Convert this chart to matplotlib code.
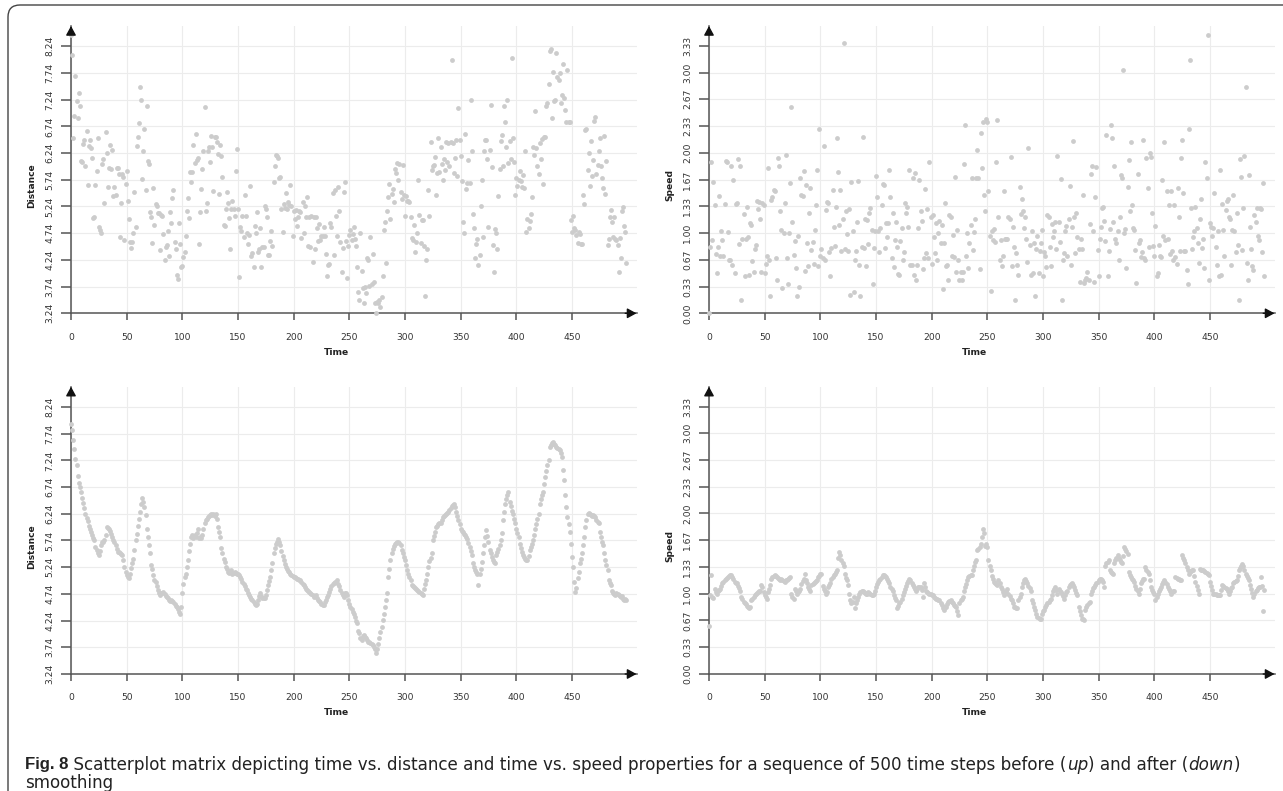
import matplotlib
matplotlib.use('Agg')
import numpy as np
import matplotlib.pyplot as plt
from matplotlib.patches import FancyBboxPatch

# distance per time step, before smoothing
dist_raw = [
    8.46, 8.07, 6.52, 6.94, 7.68, 7.21, 6.90, 7.37, 7.13, 6.10,
    6.08, 6.41, 6.49, 6.00, 6.66, 5.64, 6.38, 6.48, 6.33, 6.14,
    5.03, 5.05, 5.64, 5.90, 6.52, 4.86, 4.80, 4.75, 6.04, 6.13,
    5.31, 6.63, 6.24, 5.61, 5.97, 6.40, 5.94, 6.30, 5.43, 5.61,
    5.45, 5.96, 5.96, 5.85, 4.66, 5.31, 5.85, 5.80, 4.62, 5.67,
    5.91, 5.34, 5.01, 4.57, 4.47, 4.58, 4.75, 5.52, 4.85, 6.38,
    6.54, 6.80, 7.48, 7.23, 5.75, 6.28, 6.70, 5.55, 7.12, 6.10,
    6.04, 5.14, 5.05, 4.55, 5.58, 4.90, 5.28, 5.25, 5.11, 5.11,
    4.43, 5.09, 5.07, 4.73, 4.23, 4.49, 4.52, 4.78, 4.32, 5.13,
    4.94, 5.40, 5.55, 4.57, 4.45, 3.95, 3.89, 4.93, 4.54, 4.10,
    4.13, 4.29, 4.38, 4.68, 5.16, 5.40, 5.02, 5.88, 5.70, 5.88,
    6.40, 6.06, 6.60, 6.11, 6.15, 4.54, 5.14, 5.57, 5.95, 6.27,
    7.10, 5.16, 5.31, 6.27, 6.35, 6.08, 6.56, 6.36, 5.53, 6.55,
    6.54, 6.44, 6.22, 5.47, 6.40, 6.18, 5.80, 4.90, 4.88, 5.20,
    5.52, 5.30, 5.02, 4.45, 5.20, 5.35, 5.19, 5.07, 5.91, 6.31,
    5.19, 3.92, 4.85, 4.79, 5.06, 4.67, 5.46, 5.06, 4.75, 4.53,
    4.70, 5.63, 4.31, 4.36, 4.11, 4.88, 4.74, 5.13, 4.39, 4.44,
    4.83, 4.11, 4.48, 4.49, 5.24, 5.20, 5.04, 4.33, 4.33, 4.60,
    4.78, 4.50, 5.69, 5.99, 6.21, 6.18, 6.15, 5.77, 5.80, 5.20,
    4.77, 5.29, 5.21, 5.50, 5.19, 5.32, 5.27, 5.65, 5.24, 4.68,
    5.16, 5.00, 5.18, 4.88, 5.04, 5.16, 5.14, 4.65, 5.32, 4.75,
    5.24, 5.05, 5.41, 4.50, 5.04, 4.49, 5.07, 4.21, 5.05, 4.44,
    5.05, 4.83, 4.60, 4.91, 4.62, 4.68, 4.69, 4.86, 4.69, 4.35,
    3.93, 4.15, 4.16, 4.93, 4.86, 5.50, 4.33, 5.54, 5.07, 4.69,
    5.61, 5.15, 4.58, 4.02, 4.46, 5.52, 5.69, 4.60, 3.91, 4.50,
    4.71, 4.80, 4.62, 4.73, 4.86, 4.63, 4.50, 4.10, 3.63, 3.49,
    4.75, 4.03, 3.71, 3.44, 3.74, 3.62, 4.27, 4.23, 3.75, 4.67,
    3.79, 4.35, 3.83, 3.44, 3.24, 3.46, 3.43, 3.49, 3.35, 3.55,
    3.93, 4.80, 4.95, 4.18, 5.15, 5.42, 5.67, 5.00, 5.48, 5.57,
    5.33, 5.94, 5.87, 6.05, 5.74, 6.04, 5.52, 5.38, 6.02, 5.46,
    5.07, 5.43, 5.35, 5.35, 5.32, 5.05, 4.65, 4.61, 4.90, 4.38,
    4.58, 4.74, 5.73, 5.08, 4.55, 4.98, 4.98, 4.50, 3.56, 4.24,
    4.44, 5.55, 5.07, 6.45, 5.93, 5.99, 6.02, 6.16, 5.45, 5.87,
    6.53, 5.89, 6.36, 6.04, 5.74, 6.13, 5.93, 6.44, 6.08, 6.43,
    5.99, 6.44, 7.99, 6.43, 5.87, 6.15, 6.49, 5.82, 7.08, 6.48,
    6.18, 5.71, 4.95, 4.75, 6.60, 5.57, 5.68, 6.11, 5.68, 7.24,
    6.28, 5.10, 4.83, 4.27, 4.54, 4.63, 4.15, 4.33, 5.24, 5.74,
    4.66, 6.27, 6.48, 6.48, 6.13, 4.85, 6.30, 7.15, 5.98, 4.52,
    4.02, 4.82, 4.75, 4.44, 5.44, 5.94, 6.46, 6.58, 6.00, 7.12,
    6.83, 6.36, 7.24, 6.05, 6.46, 6.13, 8.02, 6.53, 6.08, 5.46,
    5.77, 5.63, 5.73, 5.91, 5.71, 5.60, 5.83, 5.58, 6.27, 4.77,
    5.00, 4.83, 4.96, 5.10, 5.42, 6.35, 6.21, 7.02, 6.33, 6.00,
    5.85, 6.43, 6.13, 6.51, 5.67, 6.54, 6.55, 7.12, 7.17, 7.53,
    8.15, 8.18, 6.90, 7.75, 7.22, 7.23, 8.12, 7.66, 7.61, 7.74,
    7.17, 7.33, 7.91, 7.27, 7.04, 6.82, 7.80, 6.82, 6.82, 4.99,
    4.77, 5.07, 4.83, 4.80, 4.71, 4.55, 4.77, 4.73, 4.54, 4.54,
    5.46, 5.29, 6.67, 6.69, 5.92, 6.25, 5.63, 6.46, 5.82, 6.11,
    6.85, 6.92, 5.85, 6.02, 6.27, 6.52, 5.99, 5.77, 5.58, 6.56,
    5.47, 6.10, 4.52, 4.63, 5.05, 5.18, 4.95, 4.66, 5.04, 4.63,
    4.62, 4.52, 4.02, 4.65, 4.27, 5.15, 5.23, 4.88, 4.77, 4.19,
]

# speed per time step, before smoothing
speed_raw = [
    0.00, 0.83, 1.88, 0.91, 1.64, 1.35, 0.74, 0.50, 0.82, 1.46,
    0.71, 1.03, 0.91, 0.71, 1.36, 1.90, 1.88, 1.01, 0.67, 0.66,
    1.84, 0.60, 1.66, 0.50, 1.36, 1.38, 1.92, 0.86, 1.84, 0.16,
    0.92, 1.24, 0.46, 0.93, 1.33, 0.95, 0.48, 1.13, 1.10, 0.65,
    0.52, 0.80, 0.85, 1.40, 1.30, 1.39, 1.17, 0.52, 1.38, 1.35,
    0.50, 0.62, 0.71, 1.81, 0.67, 0.22, 1.41, 1.45, 1.54, 1.53,
    0.69, 0.41, 1.94, 1.83, 1.27, 1.04, 0.31, 1.00, 1.38, 1.97,
    0.69, 0.36, 1.00, 1.62, 2.57, 1.14, 0.73, 0.90, 0.56, 0.21,
    0.96, 0.33, 1.68, 1.48, 1.46, 1.77, 0.53, 1.60, 0.88, 0.59,
    1.25, 1.56, 0.79, 0.89, 0.62, 1.04, 1.35, 1.79, 0.59, 2.30,
    0.71, 0.80, 0.69, 2.08, 0.67, 1.29, 1.39, 1.38, 0.76, 0.47,
    0.81, 1.54, 1.07, 0.84, 1.33, 2.18, 1.76, 1.10, 1.54, 0.78,
    1.17, 3.37, 0.80, 1.27, 0.99, 0.78, 1.30, 0.23, 1.64, 1.02,
    0.27, 0.67, 0.78, 1.14, 1.65, 0.60, 0.22, 0.83, 2.20, 0.81,
    1.18, 0.59, 1.16, 0.86, 1.25, 1.31, 1.04, 0.37, 0.81, 1.03,
    1.71, 1.45, 1.02, 0.77, 1.06, 1.35, 1.61, 1.60, 0.81, 1.12,
    0.95, 1.12, 1.79, 1.45, 0.69, 1.25, 0.58, 0.91, 1.14, 0.83,
    0.49, 0.48, 0.90, 1.06, 0.66, 0.76, 1.38, 1.25, 1.33, 1.08,
    1.79, 0.60, 0.60, 1.68, 0.48, 1.75, 0.42, 0.60, 1.06, 1.66,
    1.27, 1.15, 0.55, 0.69, 1.55, 0.75, 1.30, 0.69, 1.88, 1.20,
    0.62, 1.22, 0.95, 0.75, 1.13, 0.66, 1.00, 1.15, 0.87, 1.10,
    0.30, 0.88, 1.37, 0.59, 0.60, 0.41, 1.23, 1.20, 0.71, 0.98,
    0.70, 1.70, 0.51, 1.04, 0.66, 0.41, 0.51, 0.41, 0.51, 1.86,
    2.35, 0.71, 1.00, 0.57, 0.88, 1.10, 1.68, 0.79, 1.01, 1.17,
    1.69, 2.04, 1.68, 0.55, 2.25, 1.81, 2.38, 1.47, 1.28, 2.42,
    2.38, 1.52, 0.96, 0.28, 1.02, 0.91, 1.05, 0.89, 1.89, 2.41,
    1.20, 0.66, 0.91, 0.59, 0.71, 1.52, 0.92, 0.92, 0.93, 1.20,
    1.17, 1.95, 0.59, 1.08, 0.82, 0.17, 0.75, 0.60, 0.48, 1.57,
    1.24, 1.43, 1.27, 1.06, 1.20, 0.93, 0.64, 2.06, 0.85, 0.48,
    1.03, 0.50, 0.87, 0.22, 0.80, 0.96, 0.50, 0.78, 0.87, 1.04,
    0.46, 0.76, 0.71, 0.58, 1.23, 1.20, 0.83, 0.59, 1.11, 0.95,
    1.02, 1.14, 0.80, 1.96, 1.14, 0.89, 1.67, 0.17, 0.66, 0.75,
    1.03, 1.09, 0.71, 1.18, 1.59, 0.60, 1.08, 2.15, 1.20, 0.75,
    1.25, 0.95, 0.80, 0.39, 0.93, 0.80, 1.47, 0.38, 0.42, 0.44,
    0.52, 0.42, 1.11, 1.74, 1.83, 1.02, 0.39, 1.45, 1.82, 0.79,
    0.46, 0.93, 1.08, 1.31, 1.33, 1.15, 0.90, 2.22, 0.46, 0.78,
    1.05, 2.35, 2.19, 1.14, 1.84, 0.93, 0.87, 1.02, 0.66, 1.20,
    1.72, 1.68, 3.03, 1.00, 1.05, 0.56, 1.57, 1.91, 1.27, 2.14,
    1.35, 1.06, 1.04, 0.79, 0.38, 1.74, 0.87, 0.91, 0.70, 0.76,
    2.16, 0.69, 0.66, 1.94, 1.56, 0.83, 2.00, 1.95, 1.25, 0.84,
    0.71, 1.09, 0.47, 0.50, 0.85, 0.71, 0.70, 1.66, 0.96, 2.13,
    0.91, 1.52, 0.92, 1.35, 0.74, 1.52, 0.78, 0.66, 1.35, 0.70,
    0.62, 1.56, 1.20, 0.78, 1.94, 2.16, 1.50, 0.78, 0.78, 0.54,
    0.37, 2.30, 3.16, 1.31, 0.80, 0.95, 1.03, 1.33, 1.06, 0.87,
    0.63, 1.18, 1.43, 0.81, 0.92, 0.56, 1.88, 1.68, 3.47, 0.41,
    1.12, 1.08, 0.96, 1.06, 1.50, 0.83, 0.60, 1.03, 0.47, 1.78,
    0.48, 1.36, 1.04, 0.71, 1.29, 1.40, 1.43, 1.20, 1.18, 0.60,
    1.04, 1.47, 1.03, 0.76, 1.25, 0.85, 0.16, 1.92, 1.70, 0.79,
    1.31, 1.96, 2.82, 0.63, 0.41, 1.72, 1.08, 0.80, 0.59, 0.54,
    1.23, 1.14, 1.31, 0.96, 0.91, 1.31, 1.30, 0.77, 1.62, 0.46,
]

# distance after smoothing
dist_smooth = [
    7.93, 7.80, 7.63, 7.45, 7.27, 7.15, 6.94, 6.81, 6.74, 6.65,
    6.54, 6.44, 6.34, 6.24, 6.17, 6.10, 6.02, 5.96, 5.90, 5.84,
    5.78, 5.75, 5.62, 5.56, 5.50, 5.47, 5.55, 5.65, 5.71, 5.72,
    5.75, 5.85, 6.00, 5.97, 5.96, 5.92, 5.87, 5.81, 5.75, 5.71,
    5.65, 5.59, 5.53, 5.53, 5.50, 5.48, 5.47, 5.37, 5.25, 5.15,
    5.09, 5.05, 5.03, 5.12, 5.22, 5.31, 5.40, 5.56, 5.75, 5.87,
    6.01, 6.15, 6.28, 6.43, 6.53, 6.46, 6.37, 6.21, 5.96, 5.81,
    5.65, 5.50, 5.28, 5.20, 5.09, 5.00, 4.97, 4.89, 4.82, 4.75,
    4.72, 4.75, 4.75, 4.78, 4.74, 4.70, 4.69, 4.67, 4.63, 4.60,
    4.62, 4.60, 4.58, 4.56, 4.52, 4.50, 4.45, 4.40, 4.37, 4.50,
    4.75, 4.93, 5.05, 5.12, 5.25, 5.37, 5.55, 5.68, 5.80, 5.84,
    5.78, 5.84, 5.80, 5.88, 5.95, 5.78, 5.80, 5.78, 5.84, 5.95,
    6.06, 6.12, 6.15, 6.18, 6.20, 6.22, 6.24, 6.22, 6.24, 6.20,
    6.24, 6.15, 6.00, 5.90, 5.80, 5.60, 5.50, 5.40, 5.33, 5.25,
    5.20, 5.15, 5.14, 5.15, 5.18, 5.12, 5.14, 5.15, 5.13, 5.12,
    5.12, 5.10, 5.06, 5.02, 4.97, 4.93, 4.88, 4.84, 4.81, 4.76,
    4.72, 4.69, 4.65, 4.62, 4.58, 4.55, 4.53, 4.55, 4.62, 4.70,
    4.75, 4.70, 4.66, 4.66, 4.66, 4.72, 4.81, 4.90, 4.98, 5.06,
    5.18, 5.31, 5.50, 5.60, 5.68, 5.72, 5.76, 5.72, 5.65, 5.55,
    5.45, 5.37, 5.30, 5.25, 5.20, 5.17, 5.15, 5.12, 5.10, 5.08,
    5.06, 5.05, 5.03, 5.02, 5.01, 5.00, 5.00, 4.96, 4.93, 4.90,
    4.87, 4.84, 4.82, 4.80, 4.78, 4.75, 4.73, 4.71, 4.69, 4.70,
    4.72, 4.66, 4.62, 4.60, 4.59, 4.56, 4.54, 4.53, 4.58, 4.62,
    4.68, 4.72, 4.78, 4.84, 4.88, 4.93, 4.95, 4.97, 4.96, 5.00,
    4.93, 4.88, 4.81, 4.75, 4.72, 4.69, 4.75, 4.76, 4.72, 4.62,
    4.56, 4.50, 4.45, 4.40, 4.37, 4.30, 4.24, 4.19, 4.05, 4.00,
    3.92, 3.88, 3.95, 3.97, 3.94, 3.91, 3.88, 3.84, 3.83, 3.82,
    3.81, 3.78, 3.75, 3.70, 3.63, 3.70, 3.81, 3.92, 4.02, 4.12,
    4.25, 4.37, 4.50, 4.62, 4.75, 5.06, 5.20, 5.37, 5.50, 5.58,
    5.64, 5.68, 5.70, 5.71, 5.72, 5.70, 5.65, 5.56, 5.50, 5.44,
    5.37, 5.28, 5.19, 5.12, 5.05, 5.00, 4.90, 4.88, 4.86, 4.85,
    4.84, 4.81, 4.80, 4.78, 4.76, 4.74, 4.72, 4.84, 4.92, 5.00,
    5.12, 5.25, 5.35, 5.42, 5.50, 5.75, 5.82, 5.90, 6.00, 6.02,
    6.04, 6.06, 6.06, 6.12, 6.18, 6.20, 6.22, 6.24, 6.26, 6.28,
    6.31, 6.34, 6.38, 6.40, 6.42, 6.36, 6.28, 6.20, 6.12, 6.04,
    5.96, 5.92, 5.90, 5.87, 5.84, 5.81, 5.76, 5.70, 5.62, 5.55,
    5.47, 5.31, 5.25, 5.19, 5.15, 5.12, 4.90, 5.12, 5.20, 5.34,
    5.50, 5.66, 5.81, 5.93, 5.82, 5.72, 5.56, 5.50, 5.44, 5.38,
    5.33, 5.31, 5.47, 5.52, 5.58, 5.65, 5.75, 5.88, 6.12, 6.28,
    6.43, 6.52, 6.60, 6.65, 6.46, 6.38, 6.30, 6.24, 6.15, 6.06,
    5.95, 5.88, 5.81, 5.68, 5.60, 5.53, 5.47, 5.43, 5.40, 5.38,
    5.37, 5.45, 5.56, 5.62, 5.68, 5.75, 5.85, 5.96, 6.05, 6.15,
    6.24, 6.43, 6.52, 6.60, 6.65, 6.80, 6.93, 7.05, 7.15, 7.24,
    7.49, 7.53, 7.56, 7.59, 7.55, 7.52, 7.50, 7.48, 7.46, 7.43,
    7.38, 7.30, 7.06, 6.87, 6.59, 6.37, 6.18, 6.05, 5.90, 5.68,
    5.43, 5.25, 4.97, 4.78, 4.85, 5.03, 5.15, 5.31, 5.40, 5.50,
    5.65, 5.81, 6.00, 6.12, 6.24, 6.25, 6.24, 6.22, 6.20, 6.21,
    6.20, 6.18, 6.12, 6.08, 6.06, 5.90, 5.80, 5.72, 5.65, 5.50,
    5.38, 5.28, 5.19, 5.00, 4.95, 4.90, 4.80, 4.75, 4.73, 4.72,
    4.75, 4.74, 4.72, 4.70, 4.69, 4.70, 4.65, 4.62, 4.64, 4.62,
]

# speed after smoothing
speed_smooth = [
    0.60, 0.98, 1.23, 0.96, 0.95, 1.06, 1.02, 1.00, 1.04, 1.05,
    1.06, 1.10, 1.13, 1.15, 1.17, 1.18, 1.20, 1.21, 1.22, 1.23,
    1.23, 1.21, 1.18, 1.15, 1.14, 1.13, 1.10, 1.07, 1.04, 0.96,
    0.93, 0.90, 0.88, 0.87, 0.85, 0.83, 0.82, 0.84, 0.92, 0.94,
    0.96, 0.98, 1.00, 1.01, 1.02, 1.03, 1.04, 1.11, 1.08, 1.02,
    0.98, 0.96, 0.94, 1.02, 1.06, 1.11, 1.18, 1.21, 1.22, 1.23,
    1.22, 1.21, 1.20, 1.18, 1.17, 1.19, 1.17, 1.16, 1.15, 1.17,
    1.17, 1.19, 1.20, 1.21, 1.00, 0.96, 0.94, 1.06, 1.03, 1.00,
    1.02, 1.04, 1.06, 1.12, 1.16, 1.19, 1.25, 1.17, 1.13, 1.08,
    1.06, 1.04, 1.11, 1.12, 1.14, 1.15, 1.16, 1.17, 1.21, 1.22,
    1.24, 1.25, 1.10, 1.06, 1.03, 1.00, 1.02, 1.09, 1.11, 1.13,
    1.18, 1.21, 1.23, 1.25, 1.27, 1.29, 1.45, 1.52, 1.48, 1.42,
    1.38, 1.35, 1.25, 1.20, 1.17, 1.11, 1.00, 0.92, 0.88, 0.90,
    0.96, 0.82, 0.88, 0.92, 0.96, 1.00, 1.02, 1.04, 1.03, 1.02,
    1.01, 1.00, 1.00, 1.02, 1.01, 1.00, 0.99, 0.98, 1.00, 1.04,
    1.09, 1.12, 1.15, 1.17, 1.19, 1.21, 1.23, 1.23, 1.22, 1.21,
    1.19, 1.16, 1.13, 1.09, 1.06, 1.04, 0.98, 0.95, 0.92, 0.82,
    0.85, 0.88, 0.90, 0.94, 0.98, 1.02, 1.06, 1.10, 1.13, 1.16,
    1.19, 1.17, 1.14, 1.11, 1.08, 1.06, 1.04, 1.06, 1.08, 1.09,
    1.09, 1.05, 0.96, 1.13, 1.08, 1.04, 1.02, 1.01, 1.00, 1.00,
    0.99, 0.98, 0.96, 0.95, 0.94, 0.93, 0.92, 0.92, 0.88, 0.86,
    0.82, 0.80, 0.83, 0.84, 0.87, 0.90, 0.91, 0.92, 0.90, 0.88,
    0.86, 0.85, 0.84, 0.78, 0.73, 0.88, 0.92, 0.94, 0.96, 1.04,
    1.08, 1.12, 1.17, 1.21, 1.22, 1.23, 1.23, 1.30, 1.35, 1.40,
    1.42, 1.54, 1.56, 1.58, 1.62, 1.71, 1.81, 1.76, 1.60, 1.62,
    1.58, 1.42, 1.35, 1.29, 1.22, 1.18, 1.15, 1.13, 1.12, 1.11,
    1.17, 1.13, 1.09, 1.06, 1.02, 0.98, 1.02, 1.04, 1.06, 1.00,
    0.97, 0.94, 0.92, 0.88, 0.84, 0.83, 0.82, 0.82, 0.92, 0.96,
    1.00, 1.09, 1.13, 1.17, 1.19, 1.16, 1.13, 1.10, 1.07, 1.04,
    0.92, 0.88, 0.84, 0.80, 0.75, 0.71, 0.70, 0.69, 0.69, 0.75,
    0.78, 0.80, 0.84, 0.86, 0.88, 0.90, 0.92, 0.94, 0.99, 1.04,
    1.06, 1.09, 1.05, 1.00, 1.06, 1.04, 1.02, 1.00, 0.97, 0.94,
    0.98, 1.02, 1.04, 1.09, 1.11, 1.12, 1.13, 1.11, 1.09, 1.05,
    1.01, 0.98, 0.84, 0.78, 0.73, 0.69, 0.68, 0.67, 0.80, 0.84,
    0.86, 0.88, 0.90, 1.00, 1.04, 1.07, 1.09, 1.11, 1.13, 1.15,
    1.17, 1.18, 1.19, 1.17, 1.15, 1.09, 1.35, 1.38, 1.40, 1.42,
    1.29, 1.27, 1.26, 1.25, 1.38, 1.42, 1.45, 1.48, 1.44, 1.42,
    1.40, 1.38, 1.47, 1.58, 1.56, 1.53, 1.50, 1.27, 1.23, 1.21,
    1.19, 1.17, 1.15, 1.10, 1.06, 1.03, 1.00, 1.06, 1.13, 1.16,
    1.18, 1.19, 1.33, 1.30, 1.27, 1.25, 1.17, 1.09, 1.05, 1.02,
    1.00, 0.92, 0.96, 1.00, 1.04, 1.06, 1.09, 1.12, 1.15, 1.17,
    1.15, 1.12, 1.09, 1.06, 1.03, 1.00, 1.02, 1.03, 1.04, 1.21,
    1.20, 1.19, 1.18, 1.17, 1.17, 1.48, 1.45, 1.42, 1.38, 1.33,
    1.29, 1.25, 1.27, 1.28, 1.29, 1.29, 1.22, 1.15, 1.10, 1.05,
    1.00, 1.31, 1.30, 1.29, 1.29, 1.28, 1.27, 1.26, 1.25, 1.23,
    1.15, 1.10, 1.05, 1.00, 1.00, 1.00, 0.99, 0.99, 0.98, 0.98,
    1.05, 1.11, 1.10, 1.08, 1.07, 1.06, 1.03, 1.00, 1.04, 1.07,
    1.09, 1.13, 1.15, 1.16, 1.17, 1.22, 1.29, 1.32, 1.35, 1.37,
    1.35, 1.30, 1.25, 1.22, 1.20, 1.17, 1.11, 1.06, 1.01, 0.96,
    1.00, 1.03, 1.05, 1.07, 1.09, 1.09, 1.21, 1.10, 0.79, 1.05,
]

time_ticks = [0, 50, 100, 150, 200, 250, 300, 350, 400, 450]
dist_ticks = [3.24, 3.74, 4.24, 4.74, 5.24, 5.74, 6.24, 6.74, 7.24, 7.74, 8.24]
dist_labels = ['3.24', '3.74', '4.24', '4.74', '5.24', '5.74', '6.24', '6.74', '7.24', '7.74', '8.24']
speed_ticks = [0.0, 0.333, 0.667, 1.0, 1.333, 1.667, 2.0, 2.333, 2.667, 3.0, 3.333]
speed_labels = ['0.00', '0.33', '0.67', '1.00', '1.33', '1.67', '2.00', '2.33', '2.67', '3.00', '3.33']

plt.rcParams['font.family'] = 'DejaVu Sans'

W, H = 1283, 791
fig = plt.figure(figsize=(W / 100, H / 100), dpi=100)

axis_col = '#555555'


def panel(left_px, bottom_px, values, yticks, ylabels, ytop, ybottom, ylabel):
    ax = fig.add_axes([left_px / W, 1 - bottom_px / H, 565.5 / W, 287.3 / H])
    t = np.arange(len(values))
    ax.scatter(t, values, s=12, color='#cccccc', linewidths=0, zorder=3, clip_on=False)
    ax.set_xlim(0, 508)
    ax.set_ylim(ybottom, ytop)
    ax.set_xticks(time_ticks)
    ax.set_yticks(yticks)
    ax.set_yticklabels(ylabels, rotation=90, va='center')
    ax.grid(True, color='#ececec', lw=0.8)
    ax.set_axisbelow(True)
    for s in ['top', 'right']:
        ax.spines[s].set_visible(False)
    for s in ['left', 'bottom']:
        ax.spines[s].set_color(axis_col)
        ax.spines[s].set_linewidth(1.1)
    ax.tick_params(axis='x', length=5, width=1.1, color=axis_col, labelsize=6.6,
                   labelcolor='#333333', pad=9)
    ax.tick_params(axis='y', length=7, width=1.1, color=axis_col, labelsize=6.6,
                   labelcolor='#333333', pad=5)
    # arrow heads at the axis ends
    ax.annotate('', xy=(0, 1), xycoords='axes fraction', xytext=(0, 0.97),
                arrowprops=dict(arrowstyle='-|>,head_length=0.55,head_width=0.3',
                                color='#111111', lw=1, shrinkA=0, shrinkB=0,
                                mutation_scale=10))
    ax.annotate('', xy=(1, 0), xycoords='axes fraction', xytext=(0.98, 0),
                arrowprops=dict(arrowstyle='-|>,head_length=0.55,head_width=0.3',
                                color='#111111', lw=1, shrinkA=0, shrinkB=0,
                                mutation_scale=10))
    ax.text(0.47, -0.135, 'Time', transform=ax.transAxes, ha='center', va='center',
            fontsize=6.6, fontweight='bold', color='#222222')
    ax.text(-0.069, 0.445, ylabel, transform=ax.transAxes, ha='center', va='center',
            rotation=90, fontsize=6.6, fontweight='bold', color='#222222')
    return ax


panel(71, 313.3, dist_raw, dist_ticks, dist_labels, 8.62, 3.24, 'Distance')
panel(709, 313.3, speed_raw, speed_ticks, speed_labels, 3.58, 0.0, 'Speed')
panel(71, 674, dist_smooth, dist_ticks, dist_labels, 8.62, 3.24, 'Distance')
panel(709, 674, speed_smooth, speed_ticks, speed_labels, 3.58, 0.0, 'Speed')

# frame around the figure
frame = FancyBboxPatch((0.08, -0.3), 13.2, 7.86 + 0.3,
                       boxstyle='round,pad=0,rounding_size=0.12',
                       transform=fig.dpi_scale_trans, fill=False,
                       edgecolor='#444444', lw=1.0)
fig.patches.append(frame)

# caption: pieces laid out one after the other (bold / normal / italic)
cap_parts = [
    ('Fig. 8', 'bold', 'normal', 'Liberation Sans'),
    (' Scatterplot matrix depicting time vs. distance and time vs. speed properties '
     'for a sequence of 500 time steps before (', 'normal', 'normal', 'DejaVu Sans'),
    ('up', 'normal', 'italic', 'DejaVu Sans'),
    (') and after (', 'normal', 'normal', 'DejaVu Sans'),
    ('down', 'normal', 'italic', 'DejaVu Sans'),
    (')', 'normal', 'normal', 'DejaVu Sans'),
]
renderer = fig.canvas.get_renderer()
x_px = 25
for txt, weight, style, fam in cap_parts:
    t = fig.text(x_px / W, 1 - 765 / H, txt, fontsize=12.1, fontweight=weight,
                 fontstyle=style, family=fam, ha='left', va='center', color='#222222')
    x_px = t.get_window_extent(renderer).x1
fig.text(25 / W, 1 - 783 / H, 'smoothing', fontsize=12.1, ha='left', va='center',
         color='#222222')

fig.savefig('out.png', dpi=100)
